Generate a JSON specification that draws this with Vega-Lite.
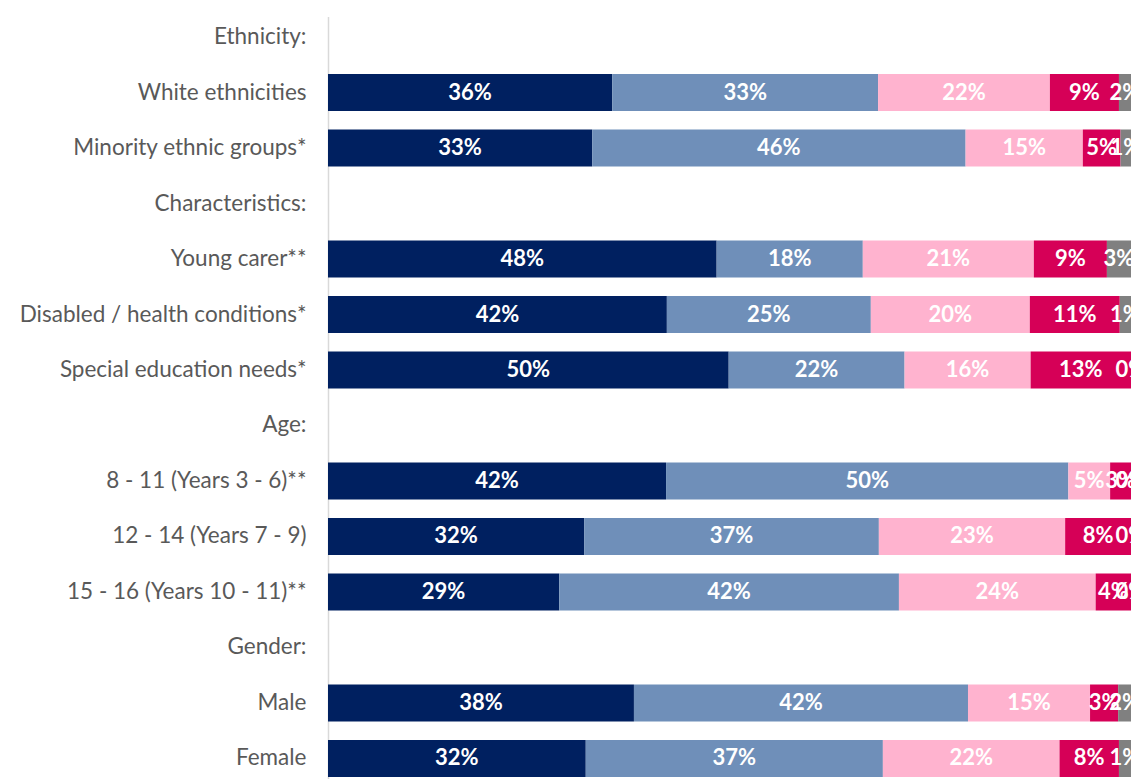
{
  "$schema": "https://vega.github.io/schema/vega-lite/v6.json",
  "autosize": {"type": "none"},
  "width": 803,
  "height": 762.5,
  "padding": {"left": 328, "top": 16.5, "right": 9, "bottom": 0},
  "background": "white",
  "config": {"view": {"stroke": null}},
  "data": {"values": [
    {"group": "White ethnicities", "s": 1, "value": 35.4, "label": "36%"},
    {"group": "White ethnicities", "s": 2, "value": 33.1, "label": "33%"},
    {"group": "White ethnicities", "s": 3, "value": 21.4, "label": "22%"},
    {"group": "White ethnicities", "s": 4, "value": 8.6, "label": "9%"},
    {"group": "White ethnicities", "s": 5, "value": 1.5, "label": "2%"},
    {"group": "Minority ethnic groups*", "s": 1, "value": 32.9, "label": "33%"},
    {"group": "Minority ethnic groups*", "s": 2, "value": 46.5, "label": "46%"},
    {"group": "Minority ethnic groups*", "s": 3, "value": 14.6, "label": "15%"},
    {"group": "Minority ethnic groups*", "s": 4, "value": 4.7, "label": "5%"},
    {"group": "Minority ethnic groups*", "s": 5, "value": 1.3, "label": "1%"},
    {"group": "Young carer**", "s": 1, "value": 48.4, "label": "48%"},
    {"group": "Young carer**", "s": 2, "value": 18.2, "label": "18%"},
    {"group": "Young carer**", "s": 3, "value": 21.3, "label": "21%"},
    {"group": "Young carer**", "s": 4, "value": 9.1, "label": "9%"},
    {"group": "Young carer**", "s": 5, "value": 3.0, "label": "3%"},
    {"group": "Disabled / health conditions*", "s": 1, "value": 42.2, "label": "42%"},
    {"group": "Disabled / health conditions*", "s": 2, "value": 25.4, "label": "25%"},
    {"group": "Disabled / health conditions*", "s": 3, "value": 19.8, "label": "20%"},
    {"group": "Disabled / health conditions*", "s": 4, "value": 11.2, "label": "11%"},
    {"group": "Disabled / health conditions*", "s": 5, "value": 1.4, "label": "1%"},
    {"group": "Special education needs*", "s": 1, "value": 49.9, "label": "50%"},
    {"group": "Special education needs*", "s": 2, "value": 21.9, "label": "22%"},
    {"group": "Special education needs*", "s": 3, "value": 15.7, "label": "16%"},
    {"group": "Special education needs*", "s": 4, "value": 12.5, "label": "13%"},
    {"group": "Special education needs*", "s": 5, "value": 0, "label": "0%"},
    {"group": "8 - 11 (Years 3 - 6)**", "s": 1, "value": 42.1, "label": "42%"},
    {"group": "8 - 11 (Years 3 - 6)**", "s": 2, "value": 50.1, "label": "50%"},
    {"group": "8 - 11 (Years 3 - 6)**", "s": 3, "value": 5.2, "label": "5%"},
    {"group": "8 - 11 (Years 3 - 6)**", "s": 4, "value": 2.6, "label": "3%"},
    {"group": "8 - 11 (Years 3 - 6)**", "s": 5, "value": 0, "label": "0%"},
    {"group": "12 - 14 (Years 7 - 9)", "s": 1, "value": 31.9, "label": "32%"},
    {"group": "12 - 14 (Years 7 - 9)", "s": 2, "value": 36.7, "label": "37%"},
    {"group": "12 - 14 (Years 7 - 9)", "s": 3, "value": 23.2, "label": "23%"},
    {"group": "12 - 14 (Years 7 - 9)", "s": 4, "value": 8.2, "label": "8%"},
    {"group": "12 - 14 (Years 7 - 9)", "s": 5, "value": 0, "label": "0%"},
    {"group": "15 - 16 (Years 10 - 11)**", "s": 1, "value": 28.8, "label": "29%"},
    {"group": "15 - 16 (Years 10 - 11)**", "s": 2, "value": 42.3, "label": "42%"},
    {"group": "15 - 16 (Years 10 - 11)**", "s": 3, "value": 24.5, "label": "24%"},
    {"group": "15 - 16 (Years 10 - 11)**", "s": 4, "value": 4.4, "label": "4%"},
    {"group": "15 - 16 (Years 10 - 11)**", "s": 5, "value": 0, "label": "0%"},
    {"group": "Male", "s": 1, "value": 38.1, "label": "38%"},
    {"group": "Male", "s": 2, "value": 41.6, "label": "42%"},
    {"group": "Male", "s": 3, "value": 15.2, "label": "15%"},
    {"group": "Male", "s": 4, "value": 3.5, "label": "3%"},
    {"group": "Male", "s": 5, "value": 1.6, "label": "2%"},
    {"group": "Female", "s": 1, "value": 32.1, "label": "32%"},
    {"group": "Female", "s": 2, "value": 37.0, "label": "37%"},
    {"group": "Female", "s": 3, "value": 22.0, "label": "22%"},
    {"group": "Female", "s": 4, "value": 7.4, "label": "8%"},
    {"group": "Female", "s": 5, "value": 1.5, "label": "1%"}
  ]},
  "transform": [
    {"stack": "value", "groupby": ["group"], "sort": [{"field": "s", "order": "ascending"}], "as": ["x0", "x1"]},
    {"calculate": "(datum.x0 + datum.x1) / 2", "as": "xm"}
  ],
  "encoding": {
    "y": {
      "field": "group", "type": "nominal",
      "scale": {
        "domain": ["Ethnicity:", "White ethnicities", "Minority ethnic groups*", "Characteristics:", "Young carer**", "Disabled / health conditions*", "Special education needs*", "Age:", "8 - 11 (Years 3 - 6)**", "12 - 14 (Years 7 - 9)", "15 - 16 (Years 10 - 11)**", "Gender:", "Male", "Female"],
        "paddingInner": 0.333, "paddingOuter": 0.036
      },
      "axis": {
        "title": null, "ticks": false, "domainColor": "#d9d9d9", "domainWidth": 1.5,
        "labelFont": "Lato", "labelFontSize": 22.5, "labelColor": "#595959",
        "labelPadding": 22, "labelLimit": 400
      }
    }
  },
  "layer": [
    {
      "mark": {"type": "bar"},
      "encoding": {
        "x": {"field": "x0", "type": "quantitative", "scale": {"domain": [0, 100], "nice": false}, "axis": null},
        "x2": {"field": "x1"},
        "color": {
          "field": "s", "type": "nominal",
          "scale": {"domain": [1, 2, 3, 4, 5], "range": ["#002060", "#6f8fb9", "#ffb3cf", "#d60057", "#808080"]},
          "legend": null
        }
      }
    },
    {
      "mark": {"type": "text", "font": "Lato", "fontWeight": "bold", "fontSize": 22, "color": "white", "align": "center", "baseline": "middle"},
      "encoding": {
        "x": {"field": "xm", "type": "quantitative"},
        "text": {"field": "label"}
      }
    }
  ]
}
